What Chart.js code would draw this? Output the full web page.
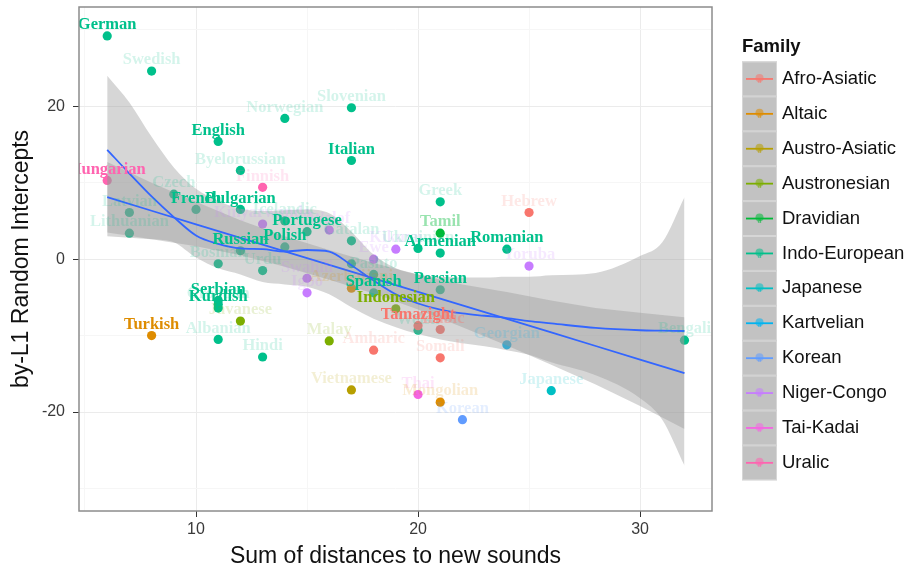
<!DOCTYPE html>
<html lang="en">
<head>
<meta charset="UTF-8">
<title>by-L1 Random Intercepts</title>
<script src="https://cdn.jsdelivr.net/npm/chart.js"></script>
<style>
  html, body { margin: 0; padding: 0; background: #fff; }
  canvas { display: block; }
</style>
</head>
<body>
<canvas id="chart" width="908" height="571"></canvas>
<script>
// values
const languages = ['German', 'Swedish', 'Norwegian', 'Slovenian', 'English', 'Italian', 'Byelorussian', 'Hungarian',
  'Finnish', 'Czech', 'French', 'Bulgarian', 'Latvian', 'Lithuanian', 'Kinyarwanda', 'Icelandic', 'Portugese',
  'Polish', 'Russian', 'Bosnian', 'Urdu', 'Serbian', 'Croatian', 'Kurdish', 'Javanese', 'Turkish', 'Albanian',
  'Hindi', 'Greek', 'Hebrew', 'Tamil', 'Wolof', 'Catalan', 'Kikuyu', 'Ukrainian', 'Armenian', 'Romanian', 'Yoruba',
  'Ewe', '', 'Pashto', 'Swahili', 'Igbo', 'Azerbaijani', 'Spanish', 'Persian', 'Indonesian', 'Tamazight', 'Welsh',
  'Arabic', 'Malay', 'Amharic', 'Somali', 'Georgian', 'Bengali', 'Japanese', 'Vietnamese', 'Thai', 'Mongolian', 'Korean'];
const families = ['Indo-European', 'Indo-European', 'Indo-European', 'Indo-European', 'Indo-European', 'Indo-European',
  'Indo-European', 'Uralic', 'Uralic', 'Indo-European', 'Indo-European', 'Indo-European', 'Indo-European',
  'Indo-European', 'Niger-Congo', 'Indo-European', 'Indo-European', 'Indo-European', 'Indo-European', 'Indo-European',
  'Indo-European', 'Indo-European', 'Indo-European', 'Indo-European', 'Austronesian', 'Altaic', 'Indo-European',
  'Indo-European', 'Indo-European', 'Afro-Asiatic', 'Dravidian', 'Niger-Congo', 'Indo-European', 'Niger-Congo',
  'Indo-European', 'Indo-European', 'Indo-European', 'Niger-Congo', 'Niger-Congo', 'Indo-European', 'Indo-European',
  'Niger-Congo', 'Niger-Congo', 'Altaic', 'Indo-European', 'Indo-European', 'Austronesian', 'Afro-Asiatic',
  'Indo-European', 'Afro-Asiatic', 'Austronesian', 'Afro-Asiatic', 'Afro-Asiatic', 'Kartvelian', 'Indo-European',
  'Japanese', 'Austro-Asiatic', 'Tai-Kadai', 'Altaic', 'Korean'];
const distance = [6, 8, 14, 17, 11, 17, 12, 6, 13, 9, 10, 12, 7, 7, 13, 14, 15, 14, 12, 11, 13, 11, 11, 11, 12, 8, 11,
  13, 21, 25, 21, 16, 17, 19, 20, 21, 24, 25, 18, 17, 18, 15, 15, 17, 18, 21, 19, 20, 20, 21, 16, 18, 21, 24, 32, 26,
  17, 20, 21, 22];
const intercept = [29.2, 24.6, 18.4, 19.8, 15.4, 12.9, 11.6, 10.3, 9.4, 8.5, 6.5, 6.5, 6.1, 3.4, 4.6, 5.0, 3.6, 1.6,
  1.1, -0.6, -1.5, -5.4, -5.9, -6.4, -8.1, -10.0, -10.5, -12.8, 7.5, 6.1, 3.4, 3.8, 2.4, 1.3, 1.4, 0.8, 1.3, -0.9,
  0.0, -0.6, -2.0, -2.5, -4.4, -3.8, -4.4, -4.0, -6.5, -8.7, -9.3, -9.2, -10.7, -11.9, -12.9, -11.2, -10.6, -17.2,
  -17.1, -17.7, -18.7, -21.0];
const strongLabels = ['German', 'English', 'Italian', 'Hungarian', 'French', 'Bulgarian', 'Portugese', 'Polish',
  'Russian', 'Serbian', 'Kurdish', 'Turkish', 'Armenian', 'Romanian', 'Spanish', 'Persian', 'Indonesian', 'Tamazight'];
const mediumLabels = ['Arabic', 'Tamil'];

const familyNames = ['Afro-Asiatic', 'Altaic', 'Austro-Asiatic', 'Austronesian', 'Dravidian', 'Indo-European',
  'Japanese', 'Kartvelian', 'Korean', 'Niger-Congo', 'Tai-Kadai', 'Uralic'];
const familyColors = ['#F8766D', '#DE8C00', '#B79F00', '#7CAE00', '#00BA38', '#00C08B', '#00BFC4', '#00B4F0',
  '#619CFF', '#C77CFF', '#F564E3', '#FF64B0'];

// loess smoother and its band
const loessX = [6, 7, 8, 9, 10, 11, 12, 13, 14, 15, 16, 17, 18, 19, 20, 21, 22, 23, 24, 25, 26, 28, 30, 31, 32];
const loessY = [14.3, 11.2, 8.2, 5.5, 3.1, 2.0, 1.4, 1.3, 1.0, 1.2, 1.0, -0.8, -2.8, -4.6, -5.8, -6.6, -7.1, -7.4,
  -7.7, -8.1, -8.4, -9.0, -9.3, -9.35, -9.4];
const loessUpper = [24.0, 20.5, 16.0, 12.0, 9.2, 7.6, 6.6, 6.3, 6.4, 6.5, 6.0, 3.6, 0.6, -1.2, -2.0, -2.3, -2.4, -2.4,
  -2.3, -2.3, -2.1, -1.8, 0.4, 2.2, 8.1];
const loessLower = [3.0, 2.8, 2.6, 2.2, 0.2, -1.2, -2.0, -3.0, -3.3, -3.6, -4.6, -6.3, -7.8, -8.9, -9.8, -10.5, -11.0,
  -11.4, -11.9, -12.5, -13.5, -15.2, -18.2, -21.0, -27.0];

// linear fit and its band
const lmX = [6, 8, 10, 12, 14, 16, 18, 20, 22, 24, 26, 28, 30, 32];
const lmY = [8.1, 6.33, 4.56, 2.79, 1.02, -0.75, -2.52, -4.28, -6.05, -7.82, -9.59, -11.36, -13.13, -14.9];
const lmUpper = [12.7, 10.0, 7.5, 5.1, 3.0, 1.2, -0.5, -2.0, -3.3, -4.3, -5.4, -6.4, -7.0, -7.6];
const lmLower = [3.5, 2.6, 1.7, 0.5, -1.0, -2.7, -4.5, -6.6, -8.9, -11.3, -13.8, -16.4, -19.2, -22.2];

const xTicks = [5, 10, 15, 20, 25, 30];
const yTicks = [-30, -20, -10, 0, 10, 20, 30];

function pairs(xs, ys) {
  return xs.map((x, i) => ({ x: x, y: ys[i] }));
}

const datasets = [];
familyNames.forEach((fam, k) => {
  const pts = [];
  languages.forEach((name, i) => {
    if (families[i] === fam) pts.push({ x: distance[i], y: intercept[i] });
  });
  datasets.push({
    label: fam, data: pts, order: 3,
    backgroundColor: familyColors[k], borderWidth: 0, pointRadius: 4.6, pointHoverRadius: 4.6
  });
});

const band = 'rgba(153,153,153,0.4)';
[[loessX, loessLower, loessUpper, 'monotone'], [lmX, lmLower, lmUpper, 'default']].forEach(b => {
  datasets.push({ data: pairs(b[0], b[1]), showLine: true, borderWidth: 0, pointRadius: 0, order: 2,
    cubicInterpolationMode: b[3], fill: false });
  datasets.push({ data: pairs(b[0], b[2]), showLine: true, borderWidth: 0, pointRadius: 0, order: 2,
    cubicInterpolationMode: b[3], fill: '-1', backgroundColor: band });
});
datasets.push({ data: pairs(loessX, loessY), showLine: true, borderColor: '#3366FF', borderWidth: 1.8,
  pointRadius: 0, order: 1, cubicInterpolationMode: 'monotone' });
datasets.push({ data: pairs(lmX, lmY), showLine: true, borderColor: '#3366FF', borderWidth: 1.8,
  pointRadius: 0, order: 1 });

const pointLabels = {
  id: 'pointLabels',
  afterDatasetsDraw(chart) {
    const { ctx, chartArea, scales: { x, y } } = chart;
    ctx.save();
    ctx.beginPath();
    ctx.rect(chartArea.left, chartArea.top, chartArea.right - chartArea.left, chartArea.bottom - chartArea.top);
    ctx.clip();
    ctx.font = 'bold 16.5px "Liberation Serif", "Times New Roman", serif';
    ctx.textAlign = 'center';
    ctx.textBaseline = 'middle';
    const idx = languages.map((n, i) => i).sort((a, b) =>
      (strongLabels.includes(languages[a]) ? 1 : 0) - (strongLabels.includes(languages[b]) ? 1 : 0));
    idx.forEach(i => {
      const name = languages[i];
      if (!name) return;
      ctx.globalAlpha = strongLabels.includes(name) ? 1 : (mediumLabels.includes(name) ? 0.4 : 0.17);
      ctx.fillStyle = familyColors[familyNames.indexOf(families[i])];
      ctx.fillText(name, x.getPixelForValue(distance[i]), y.getPixelForValue(intercept[i]) - 11);
    });
    ctx.restore();
  },
  afterDraw(chart) {
    const { ctx, chartArea } = chart;
    ctx.save();
    // panel border
    ctx.strokeStyle = '#8c8c8c';
    ctx.lineWidth = 1.5;
    ctx.strokeRect(chartArea.left, chartArea.top, chartArea.right - chartArea.left, chartArea.bottom - chartArea.top);

    // legend
    ctx.fillStyle = '#111';
    ctx.font = 'bold 18.5px "Liberation Sans", Arial, sans-serif';
    ctx.textAlign = 'left';
    ctx.textBaseline = 'middle';
    ctx.fillText('Family', 742, 47);
    const top = 61.5, h = 34.9, left = 742, w = 35;
    familyNames.forEach((fam, k) => {
      const y0 = top + k * h, cy = y0 + h / 2;
      ctx.globalAlpha = 1;
      ctx.fillStyle = '#c2c2c2';
      ctx.fillRect(left, y0, w, h);
      ctx.strokeStyle = '#d6d6d6';
      ctx.lineWidth = 1;
      ctx.strokeRect(left + 0.5, y0 + 0.5, w - 1, h - 1);
      ctx.strokeStyle = familyColors[k];
      ctx.lineWidth = 1.8;
      ctx.beginPath();
      ctx.moveTo(left + 4, cy);
      ctx.lineTo(left + w - 4, cy);
      ctx.stroke();
      ctx.globalAlpha = 0.55;
      ctx.fillStyle = familyColors[k];
      ctx.beginPath();
      ctx.arc(left + w / 2, cy - 1, 4, 0, Math.PI * 2);
      ctx.fill();
      ctx.font = 'bold 8px "Liberation Serif", serif';
      ctx.textAlign = 'center';
      ctx.fillText('a', left + w / 2, cy + 2);
      ctx.globalAlpha = 1;
      ctx.fillStyle = '#111';
      ctx.font = '18.5px "Liberation Sans", Arial, sans-serif';
      ctx.textAlign = 'left';
      ctx.fillText(fam, 782, cy);
    });
    ctx.restore();
  }
};

new Chart(document.getElementById('chart'), {
  type: 'scatter',
  data: { datasets: datasets },
  plugins: [pointLabels],
  options: {
    responsive: false,
    animation: false,
    devicePixelRatio: 1,
    layout: { padding: { top: 7, right: 196, left: 0, bottom: 0 } },
    plugins: { legend: { display: false }, tooltip: { enabled: false } },
    scales: {
      x: {
        type: 'linear', min: 4.73, max: 33.24,
        afterBuildTicks: s => { s.ticks = xTicks.map(v => ({ value: v })); },
        afterFit: s => { s.height = 60; s.paddingLeft = 0; s.paddingRight = 0; },
        border: { display: false },
        grid: {
          color: c => c.tick && c.tick.value % 10 === 0 ? '#ebebeb' : '#f6f6f6',
          tickColor: c => c.tick && c.tick.value % 10 === 0 ? '#333' : 'rgba(0,0,0,0)',
          tickLength: 6, lineWidth: 1
        },
        ticks: {
          callback: v => (v % 10 === 0 ? v : ''),
          font: { size: 16, family: '"Liberation Sans", Arial, sans-serif' },
          color: '#3a3a3a', padding: 3, maxRotation: 0
        },
        title: {
          display: true, text: 'Sum of distances to new sounds',
          font: { size: 23, family: '"Liberation Sans", Arial, sans-serif' },
          color: '#111', padding: { top: 0, bottom: 1 }
        }
      },
      y: {
        type: 'linear', min: -32.94, max: 32.98,
        afterBuildTicks: s => { s.ticks = yTicks.map(v => ({ value: v })); },
        afterFit: s => { s.width = 79; s.paddingTop = 0; s.paddingBottom = 0; },
        border: { display: false },
        grid: {
          color: c => c.tick && c.tick.value % 20 === 0 ? '#ebebeb' : '#f6f6f6',
          tickColor: c => c.tick && c.tick.value % 20 === 0 ? '#333' : 'rgba(0,0,0,0)',
          tickLength: 6, lineWidth: 1
        },
        ticks: {
          callback: v => (v % 20 === 0 ? v : ''),
          font: { size: 16, family: '"Liberation Sans", Arial, sans-serif' },
          color: '#3a3a3a', padding: 8
        },
        title: {
          display: true, text: 'by-L1 Random Intercepts',
          font: { size: 23, family: '"Liberation Sans", Arial, sans-serif' },
          color: '#111', padding: { top: 8, bottom: 0 }
        }
      }
    }
  }
});
</script>
</body>
</html>
